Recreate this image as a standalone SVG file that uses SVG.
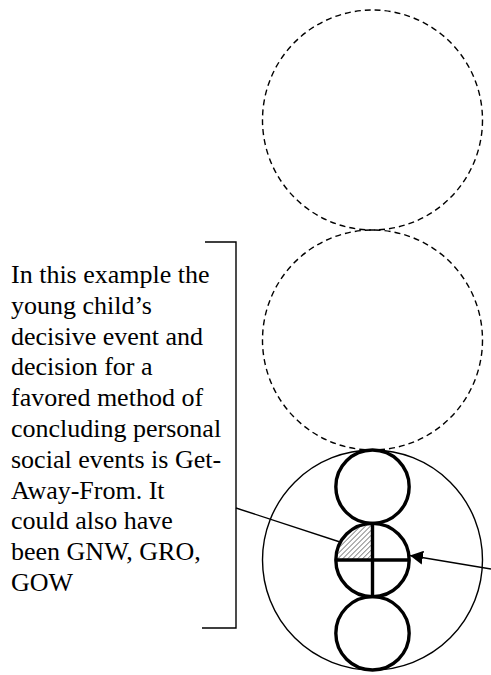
<svg xmlns="http://www.w3.org/2000/svg" width="491" height="675" viewBox="0 0 491 675">
<style>
.dash{fill:none;stroke:#000;stroke-width:1.4;stroke-dasharray:6 4}
.thin{fill:none;stroke:#000;stroke-width:1.4}
.thick{fill:none;stroke:#000;stroke-width:3.4}
.lbl{font-family:"Liberation Serif","Times New Roman",serif;font-size:26px;fill:#000}
</style>
<defs>
<pattern id="hatch" patternUnits="userSpaceOnUse" width="3.5" height="3.5" patternTransform="rotate(45)">
<rect width="3.5" height="3.5" fill="#fff"/>
<line x1="0" y1="0" x2="0" y2="3.5" stroke="#555" stroke-width="1.3"/>
</pattern>
<marker id="arrow" markerWidth="14" markerHeight="14" refX="13" refY="7" orient="auto" markerUnits="userSpaceOnUse">
<path d="M0,0 L13,7 L0,14 Z" fill="#000"/>
</marker>
</defs>
<rect width="491" height="675" fill="#fff"/>
<g id="dashed-top"><circle class="dash" cx="372.5" cy="120" r="110"/></g>
<g id="dashed-middle"><circle class="dash" cx="372.5" cy="340" r="110"/></g>
<g id="outer-circle"><circle class="thin" cx="372.5" cy="560" r="110"/></g>
<g id="small-top"><circle class="thick" cx="372.5" cy="486.67" r="36.67"/></g>
<g id="small-middle">
<path d="M372.5,560 L335.83,560 A36.67,36.67 0 0 1 372.5,523.33 Z" fill="url(#hatch)"/>
<circle class="thick" cx="372.5" cy="560" r="36.67"/>
<line class="thick" x1="335.83" y1="560" x2="409.17" y2="560"/>
<line class="thick" x1="372.5" y1="523.33" x2="372.5" y2="596.67"/>
</g>
<g id="small-bottom"><circle class="thick" cx="372.5" cy="633.33" r="36.67"/></g>
<g id="bracket">
<path class="thin" d="M205,242 H236 V628 H202"/>
</g>
<g id="label">
<text class="lbl" x="11" y="283">In this example the</text>
<text class="lbl" x="11" y="313.8">young child’s</text>
<text class="lbl" x="11" y="344.6">decisive event and</text>
<text class="lbl" x="11" y="375.4">decision for a</text>
<text class="lbl" x="11" y="406.2">favored method of</text>
<text class="lbl" x="11" y="437">concluding personal</text>
<text class="lbl" x="11" y="467.8">social events is Get-</text>
<text class="lbl" x="11" y="498.6">Away-From. It</text>
<text class="lbl" x="11" y="529.4">could also have</text>
<text class="lbl" x="11" y="560.2">been GNW, GRO,</text>
<text class="lbl" x="11" y="591">GOW</text>
</g>
<g id="connectors">
<line class="thin" x1="236" y1="508" x2="340" y2="542"/>
<line class="thin" x1="491" y1="569" x2="410" y2="555.5" marker-end="url(#arrow)"/>
</g>
</svg>
